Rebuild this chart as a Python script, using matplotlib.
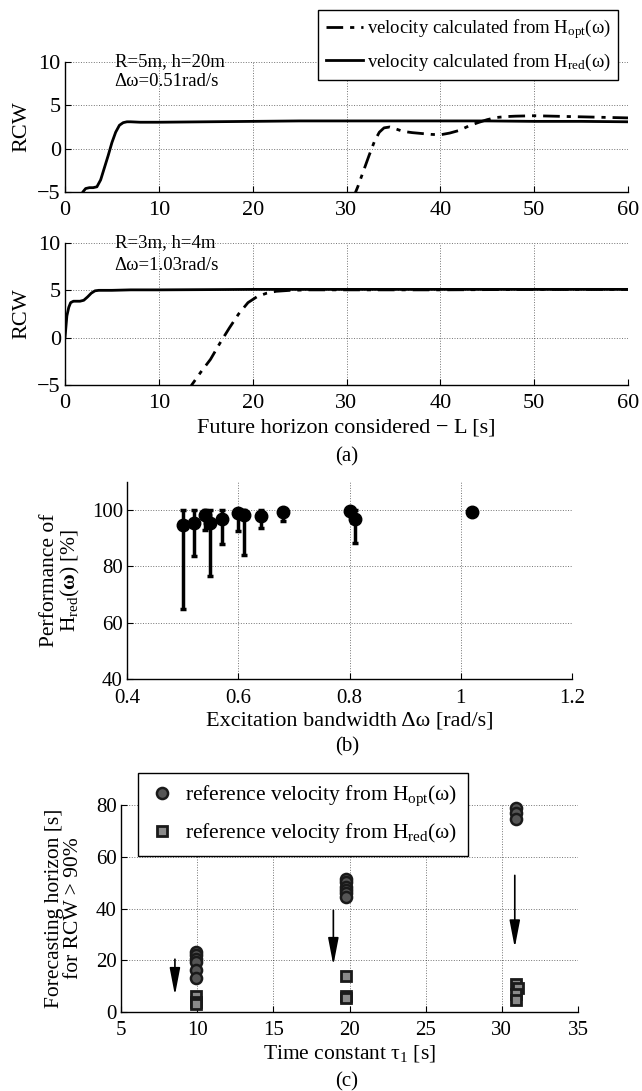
import matplotlib
matplotlib.use('Agg')
import matplotlib.pyplot as plt

plt.rcParams['font.family'] = ['Liberation Serif', 'DejaVu Serif']
plt.rcParams['mathtext.fontset'] = 'custom'
plt.rcParams['mathtext.rm'] = 'Liberation Serif'
plt.rcParams['mathtext.it'] = 'Liberation Serif:italic'
plt.rcParams['mathtext.bf'] = 'Liberation Serif:bold'
plt.rcParams['xtick.direction'] = 'in'
plt.rcParams['ytick.direction'] = 'in'

# (a) top: R=5m, h=20m
L_red_1 = [1.5, 1.9, 2.2, 2.6, 3.0, 3.4, 3.8, 4.2, 4.6, 5.0, 5.4, 5.8, 6.2, 6.6, 7.0, 8, 10, 15, 20, 25, 30,
           35, 40, 45, 50, 55, 60]
rcw_red_1 = [-6.0, -5.0, -4.6, -4.5, -4.5, -4.4, -3.6, -2.2, -0.8, 0.7, 1.9, 2.7, 3.0, 3.1, 3.1, 3.05, 3.05,
             3.1, 3.15, 3.2, 3.2, 3.2, 3.2, 3.2, 3.15, 3.15, 3.1]
L_opt_1 = [30.6, 31.2, 31.8, 32.4, 33.0, 33.5, 34.0, 34.6, 35.2, 36.0, 37.0, 38.0, 39.0, 40.0, 41.0, 42.0,
           43.0, 44.0, 45.0, 46.0, 47.0, 48.0, 50.0, 52.0, 54.0, 56.0, 58.0, 60.0]
rcw_opt_1 = [-6.0, -4.4, -2.6, -0.8, 0.9, 1.9, 2.4, 2.5, 2.3, 2.0, 1.85, 1.75, 1.65, 1.6, 1.8, 2.1, 2.6,
             3.0, 3.35, 3.6, 3.7, 3.75, 3.8, 3.75, 3.7, 3.65, 3.6, 3.55]

# (a) bottom: R=3m, h=4m
L_red_2 = [0, 0.2, 0.4, 0.6, 0.9, 1.2, 1.6, 2.0, 2.4, 2.8, 3.2, 3.6, 4.0, 5, 7, 10, 20, 30, 40, 50, 60]
rcw_red_2 = [0, 2.3, 3.2, 3.7, 3.85, 3.85, 3.85, 3.95, 4.3, 4.7, 4.95, 5.0, 5.0, 5.0, 5.05, 5.05, 5.1, 5.1,
             5.1, 5.1, 5.1]
L_opt_2 = [13.0, 13.5, 14.5, 15.5, 16.5, 17.5, 18.5, 19.5, 20.5, 21.5, 22.5, 24.0, 26, 30, 40, 50, 60]
rcw_opt_2 = [-6.0, -5.0, -3.6, -2.3, -0.6, 1.0, 2.5, 3.7, 4.35, 4.7, 4.9, 5.0, 5.05, 5.05, 5.05, 5.1, 5.1]

# (b) performance of H_red vs bandwidth
bandwidth = [0.50, 0.52, 0.54, 0.55, 0.57, 0.60, 0.61, 0.64, 0.68, 0.80, 0.81, 1.02]
performance = [94.8, 95.5, 98.2, 95.5, 97.0, 99.0, 98.2, 97.9, 99.5, 99.8, 97.0, 99.4]
perf_low = [64.9, 83.6, 92.8, 76.7, 88.0, 92.5, 84.0, 93.6, 96.0, 99.5, 88.5, 99.2]
perf_high = [100, 100, 100, 100, 100, 100, 100, 100, 100, 100, 100, 99.6]

# (c) forecasting horizon vs time constant
tau_opt = [9.95, 9.95, 9.95, 9.95, 9.95, 9.95, 19.75, 19.75, 19.75, 19.75, 19.75, 19.75, 30.95, 30.95, 30.95]
horizon_opt = [23, 22, 20.5, 19.5, 16.4, 13.3, 51.5, 50.3, 48.5, 47, 46, 44.4, 78.8, 76.8, 74.5]
tau_red = [9.95, 9.95, 9.95, 19.8, 19.8, 19.8, 30.95, 31.05, 30.95, 30.95]
horizon_red = [6.2, 4.0, 3.2, 13.8, 6.2, 5.6, 10.9, 9.3, 7.0, 4.8]
arrow_x = [8.54, 18.94, 30.85]
arrow_top = [20.4, 39.3, 52.8]
arrow_tip = [6.5, 18.1, 24.9]

lbl_opt = r'velocity calculated from H$_\mathrm{opt}$(ω)'
lbl_red = r'velocity calculated from H$_\mathrm{red}$(ω)'

W, H = 642, 1091
fig = plt.figure(figsize=(W / 100, H / 100), dpi=100)


def box(l, t, r, b):
    return [l / W, 1 - b / H, (r - l) / W, (b - t) / H]


def style(ax, size, xpad):
    ax.spines['top'].set_visible(False)
    ax.spines['right'].set_visible(False)
    ax.grid(True, linestyle=':', color='k', linewidth=0.7, alpha=0.55)
    ax.tick_params(labelsize=size, length=4, width=0.8)
    ax.tick_params(axis='y', pad=3)
    ax.tick_params(axis='x', pad=xpad)
    for s in ['left', 'bottom']:
        ax.spines[s].set_linewidth(1.0)


dashdot = (0, (6, 2.5, 1.5, 2.5))

# ---- (a) top
ax1 = fig.add_axes(box(65, 62, 628, 192))
ax1.plot(L_opt_1, rcw_opt_1, color='k', lw=2, linestyle=dashdot, label=lbl_opt)
ax1.plot(L_red_1, rcw_red_1, color='k', lw=2, label=lbl_red)
ax1.set_xlim(0, 60)
ax1.set_ylim(-5, 10)
ax1.set_yticks([-5, 0, 5, 10])
ax1.set_xticks(range(0, 61, 10))
style(ax1, 16, 6.5)
ax1.set_ylabel('RCW', fontsize=16, labelpad=4)
ax1.text(5.3, 10, 'R=5m, h=20m', fontsize=13.5, va='center', ha='left')
ax1.annotate('Δω=0.51rad/s', xy=(5.3, 10), xytext=(0, -14), textcoords='offset points',
             fontsize=13.5, va='center', ha='left')
ax1.legend(loc='upper left', bbox_to_anchor=(318 / W, 1 - 10 / H), bbox_transform=fig.transFigure,
           borderaxespad=0, fontsize=13.5, handlelength=2.0, handletextpad=0.2, labelspacing=0.55,
           borderpad=0.4, fancybox=False, framealpha=1, edgecolor='k')
ax1.get_legend().get_frame().set_linewidth(1.0)

# ---- (a) bottom
ax2 = fig.add_axes(box(65, 243, 628, 385))
ax2.plot(L_opt_2, rcw_opt_2, color='k', lw=2, linestyle=dashdot)
ax2.plot(L_red_2, rcw_red_2, color='k', lw=2)
ax2.set_xlim(0, 60)
ax2.set_ylim(-5, 10)
ax2.set_yticks([-5, 0, 5, 10])
ax2.set_xticks(range(0, 61, 10))
style(ax2, 16, 6.5)
ax2.set_ylabel('RCW', fontsize=16, labelpad=4)
ax2.set_xlabel('Future horizon considered \u2212 L [s]', fontsize=16, labelpad=4)
ax2.text(5.3, 10, 'R=3m, h=4m', fontsize=13.5, va='center', ha='left')
ax2.annotate('Δω=1.03rad/s', xy=(5.3, 10), xytext=(0, -16), textcoords='offset points',
             fontsize=13.5, va='center', ha='left')
fig.text(347 / W, 1 - 457 / H, '(a)', fontsize=15, ha='center', va='center')

# ---- (b)
ax3 = fig.add_axes(box(127, 482, 572, 679))
yerr = [[p - lo for p, lo in zip(performance, perf_low)], [hi - p for p, hi in zip(performance, perf_high)]]
ax3.errorbar(bandwidth, performance, yerr=yerr, fmt='o', color='k', ms=9, elinewidth=2.5,
             capsize=2.5, capthick=2.5, zorder=3)
ax3.set_xlim(0.4, 1.2)
ax3.set_ylim(40, 110)
ax3.set_yticks([40, 60, 80, 100])
ax3.set_xticks([0.4, 0.6, 0.8, 1.0, 1.2])
ax3.set_xticklabels(['0.4', '0.6', '0.8', '1', '1.2'])
style(ax3, 15, 7.5)
ax3.set_ylabel('Performance of\n' + r'H$_\mathrm{red}$($\mathbf{ω}$) [%]', fontsize=15.5, labelpad=7,
               linespacing=1.0)
ax3.set_xlabel('Excitation bandwidth Δω [rad/s]', fontsize=16, labelpad=2)
fig.text(347 / W, 1 - 747 / H, '(b)', fontsize=15, ha='center', va='center')

# ---- (c)
ax4 = fig.add_axes(box(121, 805, 578, 1012))
ax4.plot(tau_opt, horizon_opt, 'o', ms=8, mfc='#555555', mec='#1a1a1a', mew=1.8,
         label=r'reference velocity from H$_\mathrm{opt}$(ω)', clip_on=False, zorder=3)
ax4.plot(tau_red, horizon_red, 's', ms=7, mfc='#8a8a8a', mec='#1a1a1a', mew=2.0,
         label=r'reference velocity from H$_\mathrm{red}$(ω)', clip_on=False, zorder=3)
for xa, yt, yb in zip(arrow_x, arrow_top, arrow_tip):
    ax4.annotate('', xy=(xa, yb), xytext=(xa, yt),
                 arrowprops=dict(arrowstyle='-|>,head_length=0.83,head_width=0.16', color='k', lw=1.2,
                                 mutation_scale=20, shrinkA=0, shrinkB=0))
ax4.set_xlim(5, 35)
ax4.set_ylim(0, 80)
ax4.set_xticks(range(5, 36, 5))
ax4.set_yticks(range(0, 81, 20))
style(ax4, 15, 6.5)
ax4.set_ylabel('Forecasting horizon [s]\nfor RCW > 90%', fontsize=15.5, labelpad=9, linespacing=1.05)
ax4.set_xlabel(r'Time constant τ$_1$ [s]', fontsize=15.5, labelpad=2)
leg = ax4.legend(loc='upper left', bbox_to_anchor=(138 / W, 1 - 773 / H), bbox_transform=fig.transFigure,
                 borderaxespad=0, fontsize=15.5, handlelength=1.2, handletextpad=0.5, labelspacing=0.6,
                 borderpad=0.5, fancybox=False, framealpha=1, edgecolor='k', numpoints=1)
leg.get_frame().set_linewidth(1.0)
fig.text(347 / W, 1 - 1082 / H, '(c)', fontsize=15, ha='center', va='center')

fig.savefig('out.png', dpi=100)
